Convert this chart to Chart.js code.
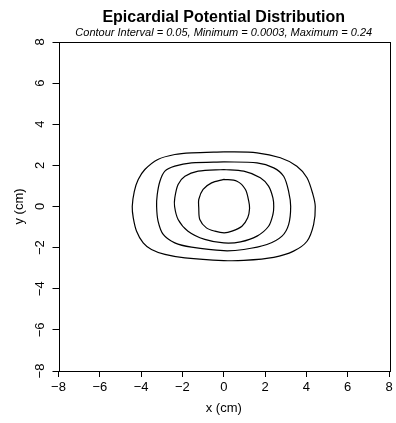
<!DOCTYPE html>
<html>
<head>
    <title>Epicardial Potential Distribution</title>
    <script src="https://cdn.jsdelivr.net/npm/chart.js"></script>
    <style>
        html, body { margin: 0; padding: 0; background: #ffffff; }
        .chart-container { position: relative; width: 396px; height: 423px; }
    </style>
</head>
<body>
    <div class="chart-container">
        <canvas id="chartContainer"></canvas>
    </div>

    <script>
        // contour levels, each a closed line of (x, y) points in cm
        const contourLabels = ['0.05', '0.1', '0.15', '0.2'];
        const contourX1 = [0, -1.56, -2.37, -3.19, -3.82, -4.14, -4.33, -4.43, -4.38, -4.22, -3.9, -3.5, -2.85, -1.88, 0, 0.97, 2.42, 3.38, 4.03, 4.35, 4.43, 4.32, 4.03, 3.54, 2.74, 1.61, 0];
        const contourY1 = [2.66, 2.61, 2.53, 2.29, 1.8, 1.31, 0.74, 0, -0.55, -1.2, -1.77, -2.09, -2.33, -2.5, -2.63, -2.62, -2.47, -2.17, -1.69, -0.88, 0, 0.58, 1.4, 1.96, 2.37, 2.61, 2.66];
        const contourX2 = [0, -1.56, -2.37, -2.85, -3.09, -3.22, -3.25, -3.18, -2.93, -2.37, -1.56, 0, 0.97, 2.09, 2.82, 3.14, 3.24, 3.14, 2.9, 2.42, 1.61, 0];
        const contourY2 = [2.17, 2.12, 1.96, 1.72, 1.23, 0.58, 0, -0.71, -1.36, -1.77, -1.98, -2.15, -2.09, -1.85, -1.44, -0.88, 0, 0.74, 1.47, 1.88, 2.12, 2.17];
        const contourX3 = [0, -1.24, -1.88, -2.21, -2.37, -2.38, -2.21, -1.73, -0.92, 0, 0.81, 1.61, 2.17, 2.38, 2.42, 2.38, 2.17, 1.77, 0.97, 0];
        const contourY3 = [1.8, 1.72, 1.47, 1.07, 0.42, 0, -0.63, -1.2, -1.6, -1.77, -1.72, -1.44, -0.96, -0.39, 0, 0.42, 0.99, 1.4, 1.72, 1.8];
        const contourX4 = [0, -0.59, -1.0, -1.21, -1.21, -1.16, -0.84, -0.43, 0.02, 0.4, 0.88, 1.16, 1.25, 1.21, 1.05, 0.64, 0];
        const contourY4 = [1.32, 1.15, 0.83, 0.34, -0.06, -0.63, -1.04, -1.2, -1.28, -1.2, -0.96, -0.55, -0.1, 0.26, 0.83, 1.23, 1.32];
        const axisTicks = [-8, -6, -4, -2, 0, 2, 4, 6, 8];

        const titleText = 'Epicardial Potential Distribution';
        const subtitleText = 'Contour Interval = 0.05, Minimum = 0.0003, Maximum = 0.24';

        function toPoints(xs, ys) {
            return xs.map((x, i) => ({ x: x, y: ys[i] }));
        }

        const contours = [
            toPoints(contourX1, contourY1),
            toPoints(contourX2, contourY2),
            toPoints(contourX3, contourY3),
            toPoints(contourX4, contourY4)
        ];

        const datasets = contours.map((pts, i) => ({
            label: contourLabels[i],
            data: pts,
            showLine: true,
            borderColor: '#000000',
            borderWidth: 1.2,
            pointRadius: 0,
            tension: 0.3,
            fill: false
        }));

        // box round the plot plus the centred title lines (R style)
        const frameAndTitle = {
            id: 'frameAndTitle',
            afterDraw(chart) {
                const { ctx, chartArea } = chart;
                ctx.save();
                ctx.strokeStyle = '#000000';
                ctx.lineWidth = 1;
                ctx.strokeRect(Math.round(chartArea.left) + 0.5, Math.round(chartArea.top) + 0.5,
                    Math.round(chartArea.right - chartArea.left), Math.round(chartArea.bottom - chartArea.top));
                const cx = (chartArea.left + chartArea.right) / 2;
                ctx.fillStyle = '#000000';
                ctx.textAlign = 'center';
                ctx.textBaseline = 'middle';
                ctx.font = 'bold 16px "Liberation Sans", Arial, sans-serif';
                ctx.fillText(titleText, cx, 18);
                ctx.font = 'italic 11px "Liberation Sans", Arial, sans-serif';
                ctx.fillText(subtitleText, cx, 33);
                ctx.restore();
            }
        };

        const minusLabel = (v) => String(v).replace('-', '\u2212');

        const ctx = document.getElementById('chartContainer').getContext('2d');
        new Chart(ctx, {
            type: 'scatter',
            data: { datasets: datasets },
            options: {
                responsive: true,
                maintainAspectRatio: false,
                animation: false,
                layout: { padding: { left: 0, right: 7, top: 42, bottom: 0 } },
                plugins: {
                    legend: { display: false },
                    tooltip: { enabled: false }
                },
                scales: {
                    x: {
                        type: 'linear',
                        min: -8,
                        max: 8,
                        afterBuildTicks: (scale) => { scale.ticks = axisTicks.map(v => ({ value: v })); },
                        afterFit: (scale) => { scale.height = 52; },
                        grid: { display: true, drawOnChartArea: false, drawTicks: true, tickLength: 6, color: '#000000', lineWidth: 1 },
                        border: { display: false },
                        ticks: {
                            color: '#000000',
                            padding: 3,
                            maxRotation: 0,
                            autoSkip: false,
                            font: { family: '"Liberation Sans", Arial, sans-serif', size: 13 },
                            callback: minusLabel
                        },
                        title: {
                            display: true,
                            text: 'x (cm)',
                            color: '#000000',
                            padding: { top: 0, bottom: 7 },
                            font: { family: '"Liberation Sans", Arial, sans-serif', size: 13 }
                        }
                    },
                    y: {
                        type: 'linear',
                        min: -8,
                        max: 8,
                        afterBuildTicks: (scale) => { scale.ticks = axisTicks.map(v => ({ value: v })); },
                        afterFit: (scale) => { scale.width = 58.5; },
                        grid: { display: true, drawOnChartArea: false, drawTicks: true, tickLength: 6, color: '#000000', lineWidth: 1 },
                        border: { display: false },
                        ticks: {
                            color: '#000000',
                            padding: 5,
                            minRotation: 90,
                            maxRotation: 90,
                            crossAlign: 'center',
                            autoSkip: false,
                            font: { family: '"Liberation Sans", Arial, sans-serif', size: 13 },
                            callback: minusLabel
                        },
                        title: {
                            display: true,
                            text: 'y (cm)',
                            color: '#000000',
                            padding: { top: 12, bottom: 0 },
                            font: { family: '"Liberation Sans", Arial, sans-serif', size: 13 }
                        }
                    }
                }
            },
            plugins: [frameAndTitle]
        });
    </script>
</body>
</html>
